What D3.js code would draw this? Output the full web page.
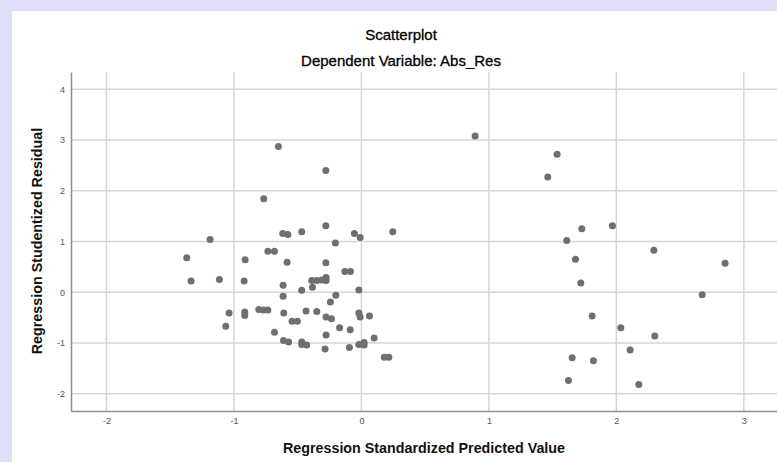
<!DOCTYPE html>
<html>
<head>
<meta charset="utf-8">
<script src="https://cdn.jsdelivr.net/npm/d3@7"></script>
<style>
  html, body { margin: 0; padding: 0; background: #dedef6; overflow: hidden; }
  svg { display: block; font-family: "Liberation Sans", Arial, sans-serif; }
</style>
</head>
<body>
<div id="chart"></div>
<script>
// predicted values (x) and studentized residuals (y)
const predicted = [
  -0.651, -0.279, -0.766, -1.187, -0.617, -0.577, -0.468, -0.279, -0.055, -0.010,
  0.246, -0.204, -1.370, -0.912, -0.734, -0.682, -0.583, -0.279, -0.130, -0.086,
  -1.336, -1.114, -0.920, -0.614, -0.384, -0.468, -0.020, -0.389, -0.350, -0.311,
  -0.277, -0.277, -0.201, -0.614, -0.243, -1.038, -0.915, -0.915, -0.805, -0.769,
  -0.734, -0.609, -0.434, -0.350, -0.544, -0.502, -0.277, -0.235, -0.020, -0.010,
  0.063, -1.064, -0.171, -0.088, -0.682, -0.277, 0.100, -0.611, -0.571, -0.468,
  -0.468, -0.429, -0.285, -0.094, -0.020, 0.021, 0.021, 0.180, 0.215,
  0.892, 1.535, 1.462, 1.729, 1.969, 1.611, 2.294, 1.679, 2.853, 1.721,
  2.673, 1.810, 2.035, 2.301, 2.108, 1.653, 1.820, 1.624, 2.176
];
const residual = [
  2.87, 2.40, 1.84, 1.04, 1.16, 1.14, 1.19, 1.31, 1.16, 1.08,
  1.19, 0.97, 0.68, 0.64, 0.81, 0.81, 0.59, 0.58, 0.41, 0.41,
  0.22, 0.25, 0.22, 0.14, 0.10, 0.04, 0.045, 0.23, 0.23, 0.24,
  0.29, 0.23, -0.06, -0.08, -0.19, -0.41, -0.39, -0.46, -0.34, -0.35,
  -0.35, -0.41, -0.37, -0.38, -0.57, -0.57, -0.49, -0.52, -0.41, -0.49,
  -0.47, -0.67, -0.70, -0.74, -0.79, -0.84, -0.90, -0.95, -0.98, -0.98,
  -1.03, -1.04, -1.12, -1.09, -1.03, -0.99, -1.04, -1.28, -1.28,
  3.08, 2.72, 2.27, 1.25, 1.31, 1.02, 0.83, 0.65, 0.57, 0.18,
  -0.05, -0.47, -0.70, -0.86, -1.14, -1.29, -1.35, -1.74, -1.82
];
const xTicks = [-2, -1, 0, 1, 2, 3];
const yTicks = [-2, -1, 0, 1, 2, 3, 4];

const title = 'Scatterplot';
const subtitle = 'Dependent Variable: Abs_Res';
const xLabel = 'Regression Standardized Predicted Value';
const yLabel = 'Regression Studentized Residual';

const W = 777, H = 462;
const plot = { left: 71, right: 777, top: 72, bottom: 411 };

const svg = d3.select('#chart').append('svg')
  .attr('width', W)
  .attr('height', H);

// white panel of the output window
svg.append('rect')
  .attr('x', 12).attr('y', 11)
  .attr('width', W - 12).attr('height', H - 11)
  .attr('fill', '#ffffff');

const xScale = d3.scaleLinear().domain([-2.278, 3.26]).range([plot.left, plot.right]);
const yScale = d3.scaleLinear().domain([-2.34, 4.34]).range([plot.bottom, plot.top]);

// grid
const grid = svg.append('g').attr('class', 'grid');
grid.selectAll('.vline').data(xTicks).enter()
  .append('line')
  .attr('class', 'vline')
  .attr('x1', d => xScale(d)).attr('x2', d => xScale(d))
  .attr('y1', plot.top).attr('y2', plot.bottom)
  .attr('stroke', '#d6d6d6').attr('stroke-width', 1.5);
grid.selectAll('.hline').data(yTicks).enter()
  .append('line')
  .attr('class', 'hline')
  .attr('x1', plot.left).attr('x2', plot.right)
  .attr('y1', d => yScale(d)).attr('y2', d => yScale(d))
  .attr('stroke', '#d6d6d6').attr('stroke-width', 1.5);

// axes (plain hyphen for negatives, as SPSS prints them)
const fmt = d => String(d);
const xAxis = d3.axisBottom(xScale).tickValues(xTicks).tickFormat(fmt).tickSize(0).tickPadding(7);
const yAxis = d3.axisLeft(yScale).tickValues(yTicks).tickFormat(fmt).tickSize(0).tickPadding(6);

const gx = svg.append('g')
  .attr('class', 'x axis')
  .attr('transform', 'translate(0,' + plot.bottom + ')')
  .call(xAxis);
const gy = svg.append('g')
  .attr('class', 'y axis')
  .attr('transform', 'translate(' + plot.left + ',0)')
  .call(yAxis);

[gx, gy].forEach(g => {
  g.select('.domain').attr('stroke', '#8e8e8e').attr('stroke-width', 1.5);
  g.selectAll('text')
    .attr('fill', '#555')
    .style('font-size', '9px')
    .style('font-family', '"Liberation Sans", Arial, sans-serif');
});

// points
svg.append('g').attr('class', 'points')
  .selectAll('circle')
  .data(predicted.map((p, i) => ({ x: p, y: residual[i] })))
  .enter()
  .append('circle')
  .attr('cx', d => xScale(d.x))
  .attr('cy', d => yScale(d.y))
  .attr('r', 3.5)
  .attr('fill', '#6f6f6f');

// titles
svg.append('text')
  .attr('x', 401).attr('y', 40)
  .attr('text-anchor', 'middle')
  .style('font-size', '15px')
  .attr('fill', '#000')
  .attr('stroke', '#000').attr('stroke-width', 0.3)
  .text(title);
svg.append('text')
  .attr('x', 401).attr('y', 66)
  .attr('text-anchor', 'middle')
  .style('font-size', '15px')
  .attr('fill', '#000')
  .attr('stroke', '#000').attr('stroke-width', 0.3)
  .text(subtitle);

svg.append('text')
  .attr('x', (plot.left + plot.right) / 2).attr('y', 453)
  .attr('text-anchor', 'middle')
  .style('font-size', '14.3px')
  .style('font-weight', 'bold')
  .attr('fill', '#111')
  .text(xLabel);
svg.append('text')
  .attr('transform', 'translate(42,' + 241 + ') rotate(-90)')
  .attr('text-anchor', 'middle')
  .style('font-size', '14.3px')
  .style('font-weight', 'bold')
  .attr('fill', '#111')
  .text(yLabel);
</script>
</body>
</html>
